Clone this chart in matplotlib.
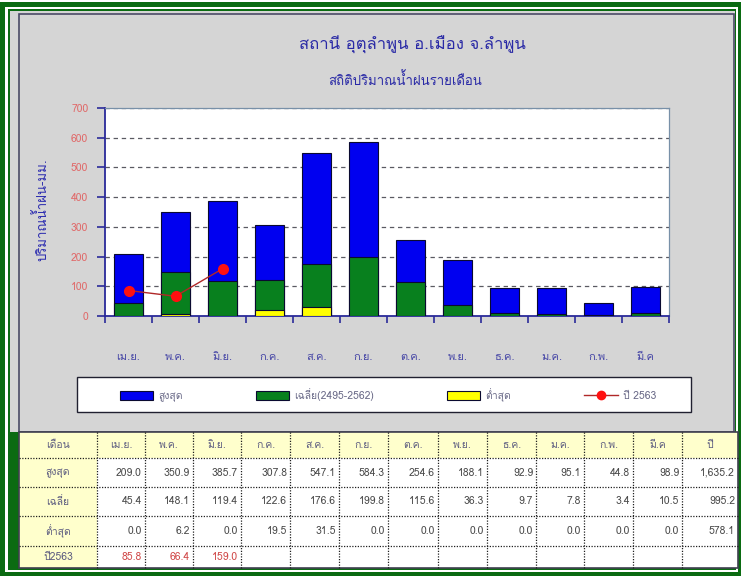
import numpy as np
import matplotlib
matplotlib.use('Agg')
import matplotlib.pyplot as plt
from matplotlib import font_manager as fm
from matplotlib.ft2font import FT2Font
from matplotlib.patches import Rectangle, Patch
from matplotlib.lines import Line2D

# ---------------- data ----------------
months = ["เม.ย.", "พ.ค.", "มิ.ย.", "ก.ค.", "ส.ค.", "ก.ย.",
          "ต.ค.", "พ.ย.", "ธ.ค.", "ม.ค.", "ก.พ.", "มี.ค"]
max_rain = [209.0, 350.9, 385.7, 307.8, 547.1, 584.3, 254.6, 188.1, 92.9, 95.1, 44.8, 98.9]
avg_rain = [45.4, 148.1, 119.4, 122.6, 176.6, 199.8, 115.6, 36.3, 9.7, 7.8, 3.4, 10.5]
min_rain = [0.0, 6.2, 0.0, 19.5, 31.5, 0.0, 0.0, 0.0, 0.0, 0.0, 0.0, 0.0]
year_2563 = [85.8, 66.4, 159.0]
annual = ["1,635.2", "995.2", "578.1"]
row_labels = ["สูงสุด", "เฉลี่ย", "ต่ำสุด", "ปี2563"]
legend_labels = ["สูงสุด", "เฉลี่ย(2495-2562)", "ต่ำสุด", "ปี 2563"]
title = "สถานี อุตุลำพูน อ.เมือง จ.ลำพูน"
subtitle = "สถิติปริมาณน้ำฝนรายเดือน"
ylabel = "ปริมาณน้ำฝน-มม."
y_ticks = [0, 100, 200, 300, 400, 500, 600, 700]

# ---------------- font with Thai glyphs ----------------
def find_thai():
    seen = set()
    for f in fm.fontManager.ttflist:
        if f.fname in seen:
            continue
        seen.add(f.fname)
        try:
            cm = FT2Font(f.fname).get_charmap()
            if 0x0E01 in cm and 0x0E32 in cm and 0x0E4C in cm:
                return f.name
        except Exception:
            pass
    return None

thai = find_thai()
fams = ([thai] if thai else []) + ['DejaVu Sans']
plt.rcParams['font.family'] = fams

# ---------------- figure ----------------
W, H = 741, 576
fig = plt.figure(figsize=(W / 100, H / 100), dpi=100)
fig.patch.set_facecolor('white')

bg = fig.add_axes([0, 0, 1, 1], zorder=0)
bg.set_xlim(0, W)
bg.set_ylim(H, 0)
bg.axis('off')

GREEN = '#0b6b12'
# outer frame
bg.add_patch(Rectangle((0, 2), W, H - 2, facecolor=GREEN, edgecolor='none'))
bg.add_patch(Rectangle((5, 7), 733, 565, facecolor='white', edgecolor='none'))
bg.add_patch(Rectangle((8, 9), 728, 561, facecolor=GREEN, edgecolor='none'))
# grey chart panel
bg.add_patch(Rectangle((10, 11), 725, 421, facecolor='#d5d5d5', edgecolor='none'))
bg.add_patch(Rectangle((19, 14), 715, 418, facecolor='none', edgecolor='#4a4a66', lw=1.2))

# legend box
bg.add_patch(Rectangle((77, 377), 614, 35, facecolor='white', edgecolor='#202030', lw=1.0))

# ---------------- table ----------------
col_edges = [19, 97, 145, 193, 241, 290, 339, 388, 438, 487, 536, 584, 633, 682, 738]
row_edges = [432, 458, 487, 516, 546, 568]
bg.add_patch(Rectangle((19, 432), 719, 136, facecolor='white', edgecolor='none'))
bg.add_patch(Rectangle((19, 432), 719, row_edges[1] - 432, facecolor='#ffffcc', edgecolor='none'))
bg.add_patch(Rectangle((19, 432), col_edges[1] - 19, 136, facecolor='#ffffcc', edgecolor='none'))
for y in row_edges[1:-1]:
    bg.plot([19, 738], [y, y], color='#202020', lw=0.9, ls=(0, (1, 1.2)))
for x in col_edges[1:-1]:
    bg.plot([x, x], [432, 568], color='#202020', lw=0.9, ls=(0, (1, 1.2)))
bg.add_patch(Rectangle((19, 432), 719, 136, facecolor='none', edgecolor='#404050', lw=1.2))

HDR = '#5c5c80'
NUM = '#4a4a4a'
RED = '#d04848'
fs_t = 7.5
header = ["เดือน"] + months + ["ปี"]
for i, txt in enumerate(header):
    cx = (col_edges[i] + col_edges[i + 1]) / 2
    bg.text(cx, (row_edges[0] + row_edges[1]) / 2, txt, ha='center', va='center',
            fontsize=fs_t, color=HDR)
series_rows = [max_rain, avg_rain, min_rain]
for r, lab in enumerate(row_labels):
    cy = (row_edges[r + 1] + row_edges[r + 2]) / 2
    bg.text((col_edges[0] + col_edges[1]) / 2, cy, lab, ha='center', va='center',
            fontsize=fs_t, color=HDR)
    if r < 3:
        vals = [f"{v:.1f}" for v in series_rows[r]] + [annual[r]]
        col = NUM
    else:
        vals = [f"{v:.1f}" for v in year_2563]
        col = RED
    for c, v in enumerate(vals):
        bg.text(col_edges[c + 2] - 3, cy, v, ha='right', va='center',
                fontsize=fs_t, color=col)

# ---------------- chart ----------------
ax = fig.add_axes([105 / W, 1 - 316 / H, 564 / W, 208 / H], zorder=2)
ax.set_facecolor('white')
x = np.arange(len(months))
bw = 0.62
ax.bar(x, max_rain, width=bw, color='#0000f0', edgecolor='#0a0a30', lw=0.8, zorder=3)
ax.bar(x, avg_rain, width=bw, color='#08801e', edgecolor='#0a0a30', lw=0.8, zorder=4)
ax.bar(x, min_rain, width=bw, color='#ffff00', edgecolor='#0a0a30', lw=0.8, zorder=5)
ax.plot(x[:len(year_2563)], year_2563, color='#b02828', lw=1.0, marker='o', ms=7,
        mfc='#ff1010', mec='#ff1010', zorder=6)

ax.set_xlim(-0.5, len(months) - 0.5)
ax.set_ylim(0, 700)
ax.set_yticks(y_ticks)
ax.set_yticklabels([str(v) for v in y_ticks])
ax.yaxis.grid(True, linestyle=(0, (3.5, 3)), color='#5a5a62', lw=0.9)
ax.set_axisbelow(True)

ax.set_xticks(np.arange(-0.5, len(months), 1.0))
ax.set_xticklabels([])
ax.set_xticks(x, minor=True)
ax.set_xticklabels(months, minor=True)
AXC = '#2a2a9a'
ax.tick_params(axis='x', which='major', direction='out', length=5, color=AXC, width=1.2)
ax.tick_params(axis='x', which='minor', length=0, pad=26, labelsize=8, labelcolor='#4646a6')
ax.tick_params(axis='y', direction='out', length=6, color=AXC, width=1.2, pad=6,
               labelsize=7.5, labelcolor='#e06a6a')
for s in ['left', 'bottom']:
    ax.spines[s].set_color(AXC)
    ax.spines[s].set_linewidth(1.3)
for s in ['top', 'right']:
    ax.spines[s].set_color('#7890a8')
    ax.spines[s].set_linewidth(0.9)

ax.set_ylabel(ylabel, color='#2e2eb0', fontsize=9.5)
ax.yaxis.set_label_coords(-56 / 564, 0.51)

fig.text(412 / W, 1 - 45 / H, title, ha='center', va='center', fontsize=12, color='#2a2aa6')
fig.text(405 / W, 1 - 80 / H, subtitle, ha='center', va='center', fontsize=9.5, color='#2a2aa6')

handles = [Patch(facecolor='#0000f0', edgecolor='#0a0a30', lw=0.8),
           Patch(facecolor='#08801e', edgecolor='#0a0a30', lw=0.8),
           Patch(facecolor='#ffff00', edgecolor='#0a0a30', lw=0.8),
           Line2D([], [], color='#b02828', lw=1.0, marker='o', ms=6,
                  mfc='#ff1010', mec='#ff1010')]
leg = fig.legend(handles, legend_labels, loc='center', bbox_to_anchor=(388 / W, 1 - 395 / H),
                 ncol=4, frameon=False, fontsize=7.5, handlelength=3.2, handleheight=0.9,
                 handletextpad=0.5, columnspacing=7.0)
for t in leg.get_texts():
    t.set_color('#6a6a88')

fig.savefig('out.png', dpi=100, facecolor=fig.get_facecolor())
